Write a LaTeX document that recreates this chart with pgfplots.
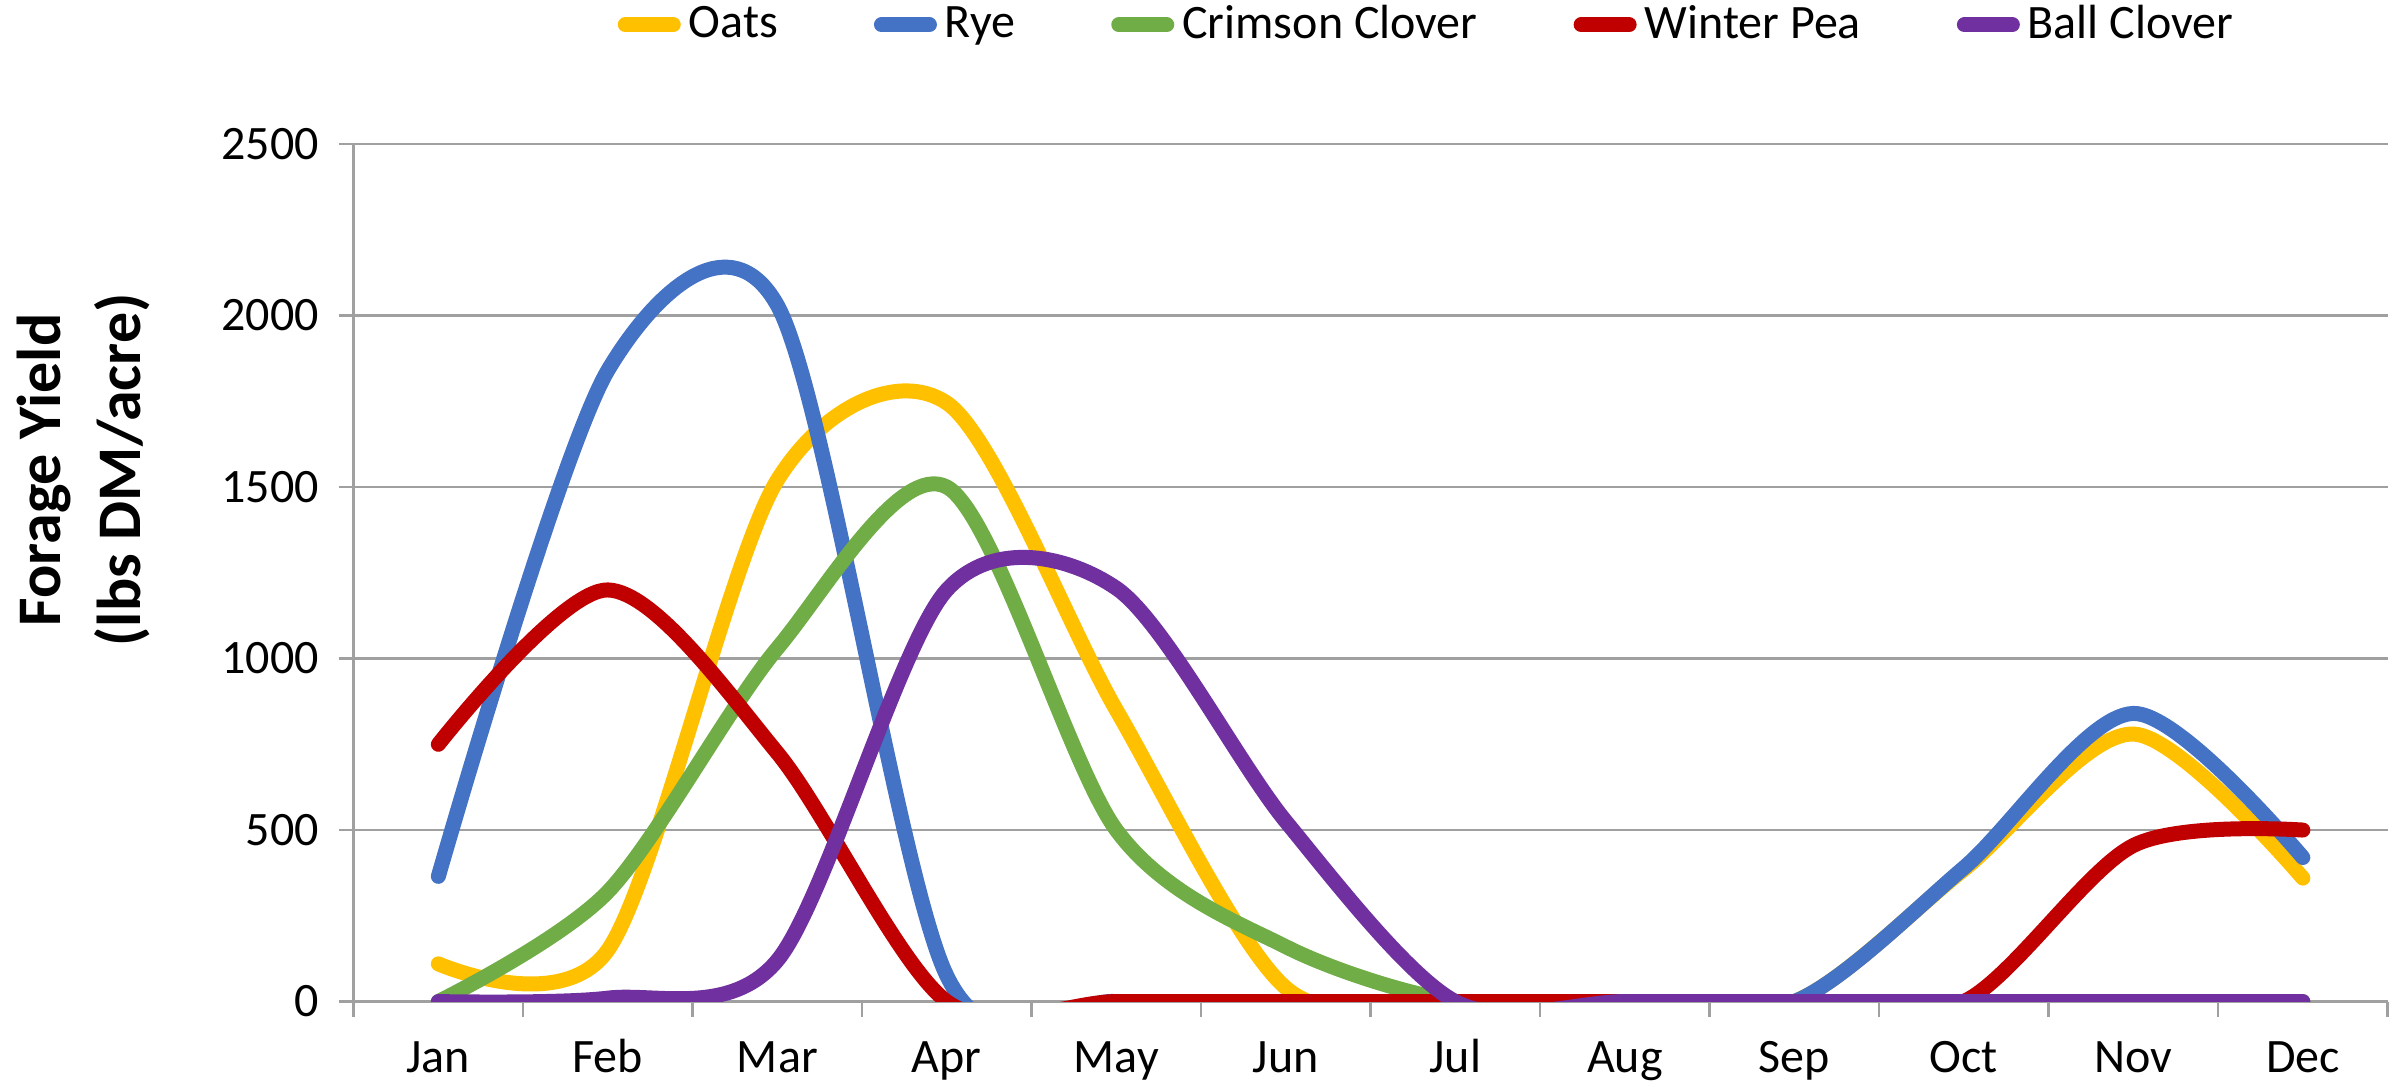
\documentclass[border=0pt]{standalone}
\usepackage{fontspec}
\setmainfont{Carlito}
\usepackage{pgfplots}
\pgfplotsset{compat=1.18}
\definecolor{oats}{HTML}{FFC000}
\definecolor{rye}{HTML}{4472C4}
\definecolor{crimson}{HTML}{70AD47}
\definecolor{pea}{HTML}{C00000}
\definecolor{ball}{HTML}{7030A0}
\definecolor{gridc}{RGB}{160,160,160}
\begin{document}
\begin{tikzpicture}
\begin{axis}[
  name=main,
  scale only axis,
  width=508.5pt, height=214.4pt,
  xmin=0.5, xmax=12.5,
  ymin=0, ymax=2500,
  xtick={1,...,12},
  xticklabels={Jan,Feb,Mar,Apr,May,Jun,Jul,Aug,Sep,Oct,Nov,Dec},
  minor xtick={0.5,1.5,...,12.5},
  ytick={0,500,...,2500},
  ymajorgrids,
  grid style={gridc, line width=0.6pt},
  axis x line*=bottom,
  axis y line*=left,
  axis line style={gridc, line width=0.6pt, -},
  tick align=outside,
  major tick length=3.75pt,
  minor tick length=3.75pt,
  tick style={gridc, line width=0.6pt},
  major x tick style={draw=none},
  ticklabel style={font=\fontsize{12}{14}\selectfont},
  xticklabel style={text height=8pt, text depth=2.5pt},
  xticklabel shift=2.4pt,
  yticklabel shift=1.4pt,
  /pgf/number format/assume math mode=true,
  /pgf/number format/1000 sep={},
  ylabel={Forage Yield\\(lbs DM/acre)},
  ylabel style={align=center, font=\bfseries\fontsize{15.5}{20}\selectfont,
    at={(axis description cs:-0.133,0.62)}, anchor=center},
  legend style={at={(axis description cs:0.529,1.139)}, anchor=center,
    draw=none, fill=none, legend columns=5,
    font=\fontsize{12}{14}\selectfont,
    /tikz/every even column/.append style={column sep=22pt}},
  legend image code/.code={\draw[#1, line width=3.75pt, line cap=round] (2pt,0pt) -- (14pt,0pt);},
  every axis plot/.append style={line width=3.75pt, line cap=round, line join=round, smooth, no markers},
]
\addplot[oats] coordinates {(1,110) (2,150) (3,1520) (4,1745) (5,850) (6,40) (7,0) (8,0) (9,0) (10,385) (11,780) (12,360)};
\addlegendentry{Oats}
\addplot[rye] coordinates {(1,365) (2,1840) (3,2030) (4,75) (5,0) (6,0) (7,0) (8,0) (9,0) (10,390) (11,840) (12,420)};
\addlegendentry{Rye}
\addplot[crimson] coordinates {(1,0) (2,320) (3,1030) (4,1500) (5,500) (6,160) (7,0) (8,0) (9,0) (10,0) (11,0) (12,0)};
\addlegendentry{Crimson Clover}
\addplot[pea] coordinates {(1,750) (2,1200) (3,725) (4,0) (5,0) (6,0) (7,0) (8,0) (9,0) (10,0) (11,455) (12,500)};
\addlegendentry{Winter Pea}
\addplot[ball] coordinates {(1,0) (2,10) (3,120) (4,1200) (5,1205) (6,525) (7,0) (8,0) (9,0) (10,0) (11,0) (12,0)};
\addlegendentry{Ball Clover}
\end{axis}
\pgfresetboundingbox
\path ([shift={(-88.4pt,-21.3pt)}]main.south west) rectangle ([shift={(511.35pt,250.4pt)}]main.south west);
\end{tikzpicture}
\end{document}
